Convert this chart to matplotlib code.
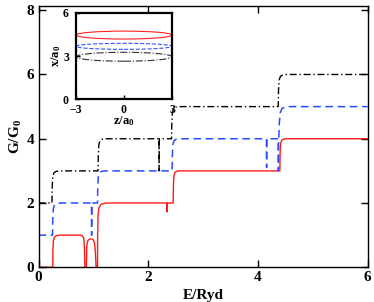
import matplotlib
matplotlib.use("Agg")
import matplotlib.pyplot as plt
from matplotlib.patches import Ellipse

plt.rcParams['font.family'] = ['Liberation Serif', 'DejaVu Serif']
plt.rcParams['font.weight'] = 'bold'
plt.rcParams['mathtext.fontset'] = 'custom'
plt.rcParams['mathtext.rm'] = 'Liberation Serif:bold'
plt.rcParams['mathtext.it'] = 'Liberation Serif:bold'
plt.rcParams['mathtext.bf'] = 'Liberation Serif:bold'

# ---- data: conductance curves ----
E_red = [0, 0.26, 0.262, 0.27, 0.29, 0.33, 0.40, 0.76, 0.80, 0.825, 0.838, 0.842,
         0.846, 0.872, 0.876, 0.88, 0.895, 0.93, 0.97, 1.00, 1.02, 1.035, 1.045,
         1.05, 1.075, 1.078, 1.085, 1.10, 1.14, 1.22, 2.338, 2.341, 2.344,
         2.455, 2.46, 2.47, 2.49, 2.55, 4.40, 4.405, 4.415, 4.435, 4.49, 6.0]
G_red = [0, 0, 0.5, 0.82, 0.94, 0.985, 1.0, 1.0, 0.98, 0.9, 0.6, 0.2,
         0, 0, 0.3, 0.65, 0.82, 0.88, 0.88, 0.85, 0.75, 0.5, 0.15,
         0, 0, 1.0, 1.6, 1.85, 1.96, 2.0, 2.0, 1.72, 2.0,
         2.0, 2.6, 2.85, 2.96, 3.0, 3.0, 3.6, 3.85, 3.96, 4.0, 4.0]

E_blue = [0, 0.255, 0.26, 0.27, 0.29, 0.33, 0.40, 0.965, 0.968, 0.972, 1.075, 1.08,
          1.09, 1.11, 1.15, 1.22, 2.435, 2.44, 2.45, 2.47, 2.51, 2.58, 4.155,
          4.158, 4.162, 4.37, 4.373, 4.377, 4.38, 4.39, 4.41, 4.44, 4.50, 6.0]
G_blue = [1, 1, 1.5, 1.82, 1.94, 1.985, 2.0, 2.0, 1.0, 2.0, 2.0, 2.5,
          2.82, 2.94, 2.985, 3.0, 3.0, 3.5, 3.82, 3.94, 3.985, 4.0, 4.0,
          3.1, 4.0, 4.0, 3.0, 4.0, 4.0, 4.5, 4.82, 4.94, 5.0, 5.0]

E_black = [0, 0.245, 0.25, 0.26, 0.28, 0.32, 0.40, 1.085, 1.09, 1.10, 1.12, 1.16,
           1.24, 2.195, 2.198, 2.202, 2.425, 2.43, 2.44, 2.46, 2.50, 2.58, 4.37,
           4.375, 4.385, 4.41, 4.45, 4.53, 6.0]
G_black = [2, 2, 2.5, 2.82, 2.94, 2.985, 3.0, 3.0, 3.5, 3.82, 3.94, 3.985,
           4.0, 4.0, 3.0, 4.0, 4.0, 4.5, 4.82, 4.94, 4.985, 5.0, 5.0,
           5.5, 5.82, 5.94, 5.985, 6.0, 6.0]

# ---- inset data: wire cross sections ----
ell_centers = [4.45, 3.67, 2.95]
ell_heights = [0.55, 0.42, 0.62]
ell_width = 6.0
ell_colors = ['#ff2020', '#3355ff', '#333333']
ell_styles = ['-', '--', '-.']

xticks = [0, 2, 4, 6]
yticks = [0, 2, 4, 6, 8]
in_xticks = [-3, 0, 3]
in_yticks = [0, 3, 6]

fig = plt.figure(figsize=(3.74, 3.02), dpi=100)
ax = fig.add_axes([0.103, 0.115, 0.880, 0.865])

ax.plot(E_red, G_red, color='#ff1a1a', lw=1.0, ls='-')
ax.plot(E_blue, G_blue, color='#2a4cff', lw=1.1, ls=(0, (5, 3)))
ax.plot(E_black, G_black, color='black', lw=1.0, ls=(0, (5, 2, 1, 2)))

ax.set_xlim(0, 6)
ax.set_ylim(0, 8.13)
ax.set_xticks(xticks)
ax.set_yticks(yticks)
ax.tick_params(direction='in', length=5, width=1, top=True, right=True,
               labelsize=11, pad=3)
for lab in ax.get_xticklabels() + ax.get_yticklabels():
    lab.set_fontweight('bold')
for s in ax.spines.values():
    s.set_linewidth(1.0)
ax.set_xlabel('E/Ryd', fontsize=11, fontweight='bold', labelpad=3)
ax.set_ylabel(r'G/G$_0$', fontsize=11, fontweight='bold', labelpad=2)

# ---- inset ----
ins = fig.add_axes([0.203, 0.671, 0.257, 0.287])
for c, h, col, st in zip(ell_centers, ell_heights, ell_colors, ell_styles):
    ins.add_patch(Ellipse((0, c), ell_width, h, fill=False, edgecolor=col,
                          lw=0.8, ls=st))
ins.set_xlim(-3, 3)
ins.set_ylim(0, 6)
ins.set_xticks(in_xticks)
ins.set_yticks(in_yticks)
ins.set_xticklabels(['\u22123', '0', '3'])
ins.tick_params(direction='in', length=3, width=1, labelsize=8.5)
ins.tick_params(axis='x', pad=3)
ins.tick_params(axis='y', pad=5)
for lab in ins.get_xticklabels() + ins.get_yticklabels():
    lab.set_fontweight('bold')
for s in ins.spines.values():
    s.set_linewidth(1.6)
ins.set_xlabel(r'z/a$_0$', fontsize=9, fontweight='bold', labelpad=-1)
ins.set_ylabel(r'x/a$_0$', fontsize=9, fontweight='bold', labelpad=0)

fig.savefig('out.png', dpi=100)
